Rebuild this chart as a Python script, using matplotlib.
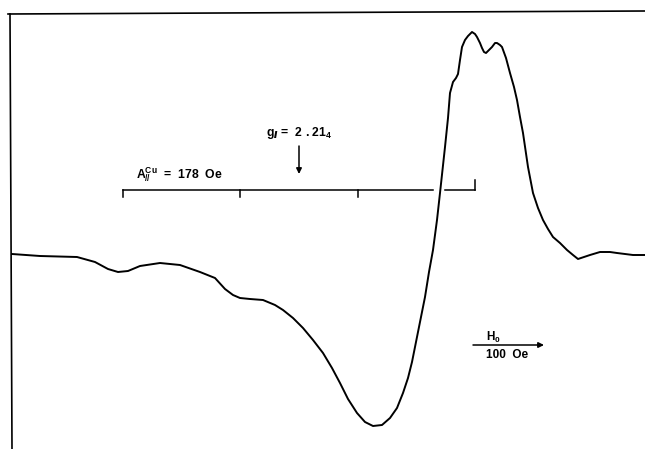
# EPR spectrum of Cu (parallel region)
import numpy as np
import matplotlib
matplotlib.use('Agg')
import matplotlib.pyplot as plt

plt.rcParams['font.family'] = ['Liberation Sans', 'DejaVu Sans']
plt.rcParams['mathtext.fontset'] = 'custom'
plt.rcParams['mathtext.rm'] = 'Liberation Sans:bold'
plt.rcParams['mathtext.it'] = 'Liberation Sans:bold'
plt.rcParams['mathtext.default'] = 'regular'

# spectrum trace (field position, signal), in chart units (y grows downward)
field = [12, 40, 77, 95, 108, 118, 128, 140, 160, 180, 200, 215, 225, 233, 240,
         250, 263, 275, 283, 293, 303, 313, 323, 332, 340, 348, 357, 365, 373,
         382, 390, 397, 403, 408, 412, 415, 420, 425, 429, 433, 437, 440, 445,
         448, 450, 453, 456, 458, 460, 462, 465, 468, 472, 475, 477, 480, 482,
         484, 486, 489, 492, 495, 497, 500, 502, 506, 510, 514, 517, 520, 523,
         528, 533, 538, 543, 548, 553, 560, 567, 573, 578, 584, 590, 600, 610,
         617, 625, 633, 645]
signal = [254, 256, 257, 262, 269, 272, 271, 266, 263, 265, 272, 278, 289, 295, 298,
          299, 300, 305, 310, 318, 328, 340, 353, 368, 383, 399, 413, 422, 426,
          425, 418, 408, 393, 378, 362, 347, 322, 297, 272, 250, 220, 193, 147,
          118, 93, 82, 78, 74, 60, 47, 40, 36, 32, 34, 37, 43, 48,
          52, 53, 50, 47, 43, 43, 45, 47, 58, 73, 87, 100, 117, 133,
          167, 193, 208, 220, 229, 237, 243, 250, 255, 259, 257, 255, 252, 252,
          253, 254, 255, 255]

# hyperfine splitting marker: A_par = 178 Oe, four lines
hf_lines = [123, 240, 358, 475]
hf_level = 190
g_par_pos = 299

fig = plt.figure(figsize=(6.45, 4.49), dpi=100)
ax = fig.add_axes([0, 0, 1, 1])
ax.set_xlim(0, 645)
ax.set_ylim(449, 0)
ax.axis('off')

# frame (top and left border)
ax.plot([8, 645], [14, 11], color='black', lw=1.2)
ax.plot([10, 12], [14, 449], color='black', lw=1.2)

# spectrum
ax.plot(field, signal, color='black', lw=1.4, solid_joinstyle='round')

# hyperfine stick bar (broken where the trace crosses it)
ax.plot([hf_lines[0], 433], [hf_level, hf_level], color='black', lw=1.1)
ax.plot([445, hf_lines[-1]], [hf_level, hf_level], color='black', lw=1.1)
for x in hf_lines[:-1]:
    ax.plot([x, x], [hf_level, hf_level + 7], color='black', lw=1.1)
ax.plot([hf_lines[-1], hf_lines[-1]], [hf_level, hf_level - 10], color='black', lw=1.1)

ax.text(136, 175, r'A$_{/\!/}^{Cu}$  =  178  Oe', fontsize=8.8, fontweight='bold',
        ha='left', va='center')
ax.text(266, 133, r'g$_{/\!/}$ =  2 . 21$_4$', fontsize=8.8, fontweight='bold',
        ha='left', va='center')
ax.annotate('', xy=(g_par_pos, 174), xytext=(g_par_pos, 146),
            arrowprops=dict(arrowstyle='-|>', color='black', lw=1.1,
                            mutation_scale=8, shrinkA=0, shrinkB=0))

# field direction / scale
ax.annotate('', xy=(544, 345), xytext=(473, 345),
            arrowprops=dict(arrowstyle='-|>', color='black', lw=1.1,
                            mutation_scale=8, shrinkA=0, shrinkB=0))
ax.text(493, 337, r'H$_0$', fontsize=8.5, fontweight='bold', ha='center', va='center')
ax.text(507, 355, '100  Oe', fontsize=8.5, fontweight='bold', ha='center', va='center')

fig.savefig('out.png', dpi=100, facecolor='white')
